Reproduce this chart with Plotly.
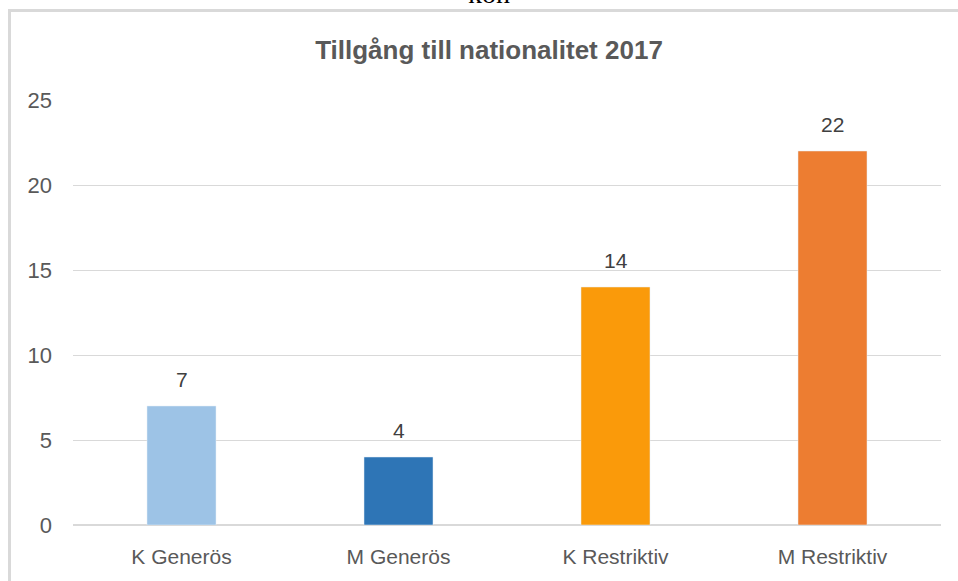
import plotly.graph_objects as go

categories = ["K Generös", "M Generös", "K Restriktiv", "M Restriktiv"]
values = [7, 4, 14, 22]
colors = ["#9dc3e6", "#2e75b6", "#fa9a0a", "#ed7d31"]
title_text = "Tillgång till nationalitet 2017"
y_ticks = [0, 5, 10, 15, 20, 25]

W, H = 958, 581
ML, MR, MT, MB = 73, 17, 100, 56
PW, PH = W - ML - MR, H - MT - MB

def px_x(x):
    return (x - ML) / PW

def px_y(y):
    return 1 - (y - MT) / PH

fig = go.Figure()
fig.add_trace(go.Bar(
    x=categories, y=values, marker_color=colors, width=0.318,
    hoverinfo="skip", showlegend=False,
))

for c, v in zip(categories, values):
    fig.add_annotation(x=c, y=v, text=str(v), showarrow=False,
                       yanchor="bottom", yshift=13,
                       font=dict(family="Liberation Sans", size=21, color="#404040"))

fig.add_annotation(xref="paper", yref="paper", x=px_x(489), y=px_y(11),
                   text="kön", showarrow=False, xanchor="center", yanchor="bottom",
                   font=dict(family="Liberation Serif", size=28, color="#000000"))

fig.add_shape(type="rect", xref="paper", yref="paper",
              x0=px_x(9.5), x1=px_x(975), y0=px_y(10.5), y1=px_y(600),
              line=dict(color="#d9d9d9", width=3), fillcolor="rgba(0,0,0,0)", layer="below")

fig.update_layout(
    width=W, height=H,
    margin=dict(l=ML, r=MR, t=MT, b=MB),
    paper_bgcolor="white", plot_bgcolor="white",
    title=dict(text=title_text, x=px_x(489), xanchor="center",
               y=1 - 50 / H, yanchor="middle", xref="paper",
               font=dict(family="Liberation Sans", size=26, color="#595959", weight="bold")),
    bargap=0.5,
)
fig.update_xaxes(showgrid=False, showline=False, zeroline=False,
                 tickfont=dict(family="Liberation Sans", size=21, color="#595959"),
                 ticklabelstandoff=17)
fig.update_yaxes(range=[0, 25], tickvals=y_ticks, showgrid=True, gridcolor="#d9d9d9",
                 gridwidth=1, zeroline=True, zerolinecolor="#d9d9d9", zerolinewidth=2,
                 showline=False,
                 tickfont=dict(family="Liberation Sans", size=22, color="#595959"),
                 ticklabelstandoff=20)

fig.write_html("out.html", config={"displayModeBar": False},
               post_script="document.body.style.margin='0px';")
